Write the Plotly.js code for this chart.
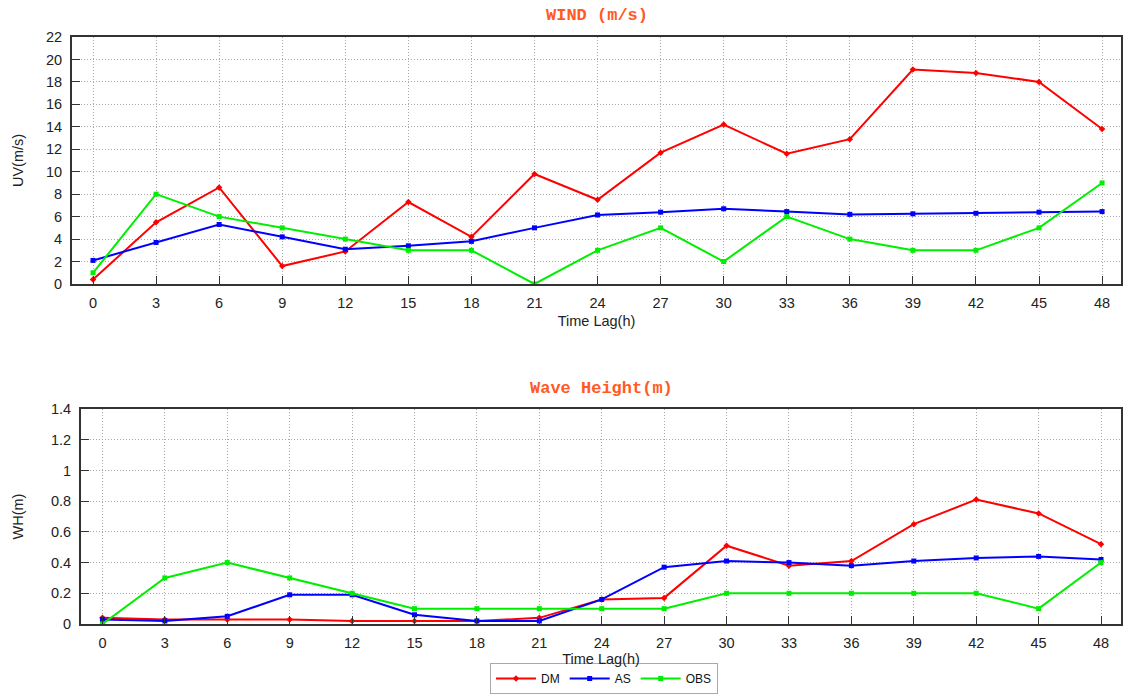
<!DOCTYPE html>
<html>
<head>
<meta charset="utf-8">
<script src="https://cdn.plot.ly/plotly-3.0.1.min.js"></script>
<style>html,body{margin:0;padding:0;background:#fff;}#chart{width:1123px;height:694px;}</style>
</head>
<body>
<div id="chart"></div>
<script>
// Time lags (hours)
const timeLag = [0, 3, 6, 9, 12, 15, 18, 21, 24, 27, 30, 33, 36, 39, 42, 45, 48];
const seriesNames = ["DM", "AS", "OBS"];

// WIND (m/s)
const windDM  = [0.4, 5.5, 8.6, 1.6, 2.9, 7.3, 4.2, 9.8, 7.5, 11.7, 14.2, 11.6, 12.9, 19.1, 18.8, 18.0, 13.8];
const windAS  = [2.1, 3.7, 5.3, 4.2, 3.1, 3.4, 3.8, 5.0, 6.15, 6.4, 6.7, 6.45, 6.2, 6.25, 6.3, 6.4, 6.45];
const windOBS = [1, 8, 6, 5, 4, 3, 3, 0, 3, 5, 2, 6, 4, 3, 3, 5, 9];

// Wave Height (m)
const waveDM  = [0.04, 0.03, 0.03, 0.03, 0.02, 0.02, 0.02, 0.04, 0.16, 0.17, 0.51, 0.38, 0.41, 0.65, 0.81, 0.72, 0.52];
const waveAS  = [0.03, 0.02, 0.05, 0.19, 0.19, 0.06, 0.02, 0.02, 0.16, 0.37, 0.41, 0.40, 0.38, 0.41, 0.43, 0.44, 0.42];
const waveOBS = [0.0, 0.3, 0.4, 0.3, 0.2, 0.1, 0.1, 0.1, 0.1, 0.1, 0.2, 0.2, 0.2, 0.2, 0.2, 0.1, 0.4];

const colors = ["#ff0000", "#0000ff", "#00ee00"];
const symbols = ["diamond", "square", "square"];
const msize = [5, 5, 5];

function mk(y, i, xa, ya, show) {
  return {
    x: timeLag, y: y, type: "scatter", mode: "lines+markers",
    name: seriesNames[i], xaxis: xa, yaxis: ya, showlegend: show,
    line: {color: colors[i], width: 2},
    marker: {color: colors[i], symbol: symbols[i], size: msize[i]}
  };
}

const data = [
  mk(windDM, 0, "x", "y", true),
  mk(windAS, 1, "x", "y", true),
  mk(windOBS, 2, "x", "y", true),
  mk(waveDM, 0, "x2", "y2", false),
  mk(waveAS, 1, "x2", "y2", false),
  mk(waveOBS, 2, "x2", "y2", false)
];

const W = 1123, H = 694;
const FAM = "Liberation Sans, Arial, sans-serif";
const tickFont = {family: FAM, size: 14.5, color: "#222"};
const titleFont = {family: FAM, size: 14.5, color: "#222"};
const axisCommon = {
  showline: true, linecolor: "#333", linewidth: 2, mirror: true,
  ticks: "inside", ticklen: 8, tickcolor: "#333", tickwidth: 1,
  showgrid: true, gridcolor: "#a8a8a8", griddash: "1px,2px", gridwidth: 1,
  zeroline: false, tickfont: tickFont, ticklabelstandoff: 5, automargin: false
};

const layout = {
  width: W, height: H,
  margin: {l: 0, r: 0, t: 0, b: 0, autoexpand: false},
  paper_bgcolor: "#fff", plot_bgcolor: "#fff",
  font: tickFont,
  xaxis: Object.assign({}, axisCommon, {
    domain: [72 / W, 1121 / W], range: [-1, 48.9], tickmode: "array", tickvals: timeLag,
    anchor: "y",
    title: {text: "Time Lag(h)", font: titleFont, standoff: 5}
  }),
  yaxis: Object.assign({}, axisCommon, {
    domain: [(H - 284) / H, (H - 37) / H], range: [0, 22], dtick: 2, anchor: "x",
    title: {text: "UV(m/s)", font: titleFont, standoff: 19}
  }),
  xaxis2: Object.assign({}, axisCommon, {
    domain: [81 / W, 1121 / W], range: [-1.03, 48.96], tickmode: "array", tickvals: timeLag,
    anchor: "y2",
    title: {text: "Time Lag(h)", font: titleFont, standoff: 2}
  }),
  yaxis2: Object.assign({}, axisCommon, {
    domain: [(H - 624) / H, (H - 409) / H], range: [0, 1.4], dtick: 0.2, anchor: "x2",
    title: {text: "WH(m)", font: titleFont, standoff: 24}
  }),
  annotations: [
    {text: "<b>WIND (m/s)</b>", xref: "paper", yref: "paper", x: 597 / W, y: (H - 16) / H,
     xanchor: "center", yanchor: "middle", showarrow: false,
     font: {family: "Liberation Mono, Courier New, monospace", size: 17, color: "#ff5a1f"}},
    {text: "<b>Wave Height(m)</b>", xref: "paper", yref: "paper", x: 601 / W, y: (H - 388) / H,
     xanchor: "center", yanchor: "middle", showarrow: false,
     font: {family: "Liberation Mono, Courier New, monospace", size: 17, color: "#ff5a1f"}}
  ],
  legend: {
    orientation: "h", x: 604 / W, y: 0, xanchor: "center", yanchor: "bottom",
    bordercolor: "#aaa", borderwidth: 1, bgcolor: "rgba(255,255,255,0)",
    font: {family: FAM, size: 12, color: "#111"},
    itemwidth: 40, tracegroupgap: 0
  }
};

Plotly.newPlot("chart", data, layout, {displayModeBar: false, staticPlot: true});
</script>
</body>
</html>
